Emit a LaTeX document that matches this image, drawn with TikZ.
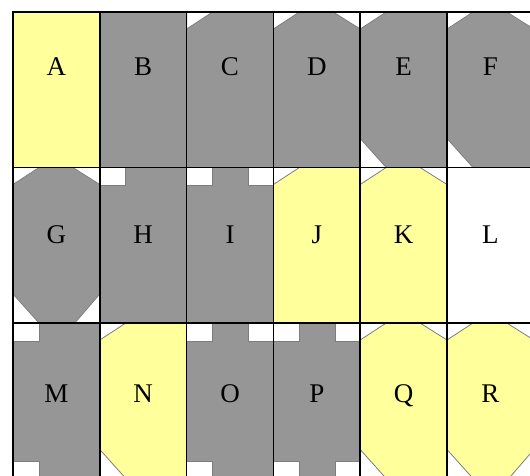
\documentclass[tikz,border=0pt]{standalone}
\usepackage{fontspec}
\setmainfont{Liberation Serif}
\usetikzlibrary{positioning}
\definecolor{tileyellow}{RGB}{255,255,155}
\definecolor{tilegray}{RGB}{150,150,150}
\definecolor{cutedge}{RGB}{125,125,125}
\tikzset{
  tile/.style={rectangle,draw=black,line width=1.6pt,minimum width=86.8pt,minimum height=155.5pt,
    inner sep=0pt,outer sep=0pt,anchor=north west},
  lbl/.style={inner sep=0pt,font=\fontsize{27}{32}\selectfont,anchor=base},
  cut/.style={fill=white,draw=cutedge,line width=0.8pt},
  edge/.style={draw=black,line width=1.6pt},
  frame/.style={draw=black,line width=2.4pt}
}

\begin{document}
\begin{tikzpicture}[x=1pt,y=-1pt]
  \useasboundingbox (0,0) rectangle (530,475);
  \clip (0,0) rectangle (530,475);
  % tiles, row by row
  \foreach \t/\c/\r/\col in {A/0/0/tileyellow,B/1/0/tilegray,C/2/0/tilegray,D/3/0/tilegray,E/4/0/tilegray,F/5/0/tilegray,
    G/0/1/tilegray,H/1/1/tilegray,I/2/1/tilegray,J/3/1/tileyellow,K/4/1/tileyellow,L/5/1/white,
    M/0/2/tilegray,N/1/2/tileyellow,O/2/2/tilegray,P/3/2/tilegray,Q/4/2/tileyellow,R/5/2/tileyellow}
    \node[tile,fill=\col] (\t) at (13+86.8*\c,12+155.5*\r) {};
  % corner cuts
  \foreach \t in {C,D,E,F,G,J,K,N,Q,R}
    \draw[cut] (\t.north west) -- ++(26,0) -- ++(-26,17) -- cycle;
  \foreach \t in {D,F,G,K,Q,R}
    \draw[cut] (\t.north east) -- ++(-27,0) -- ++(27,17) -- cycle;
  \foreach \t in {E,F,G,N,Q,R}
    \draw[cut] (\t.south west) -- ++(0,-29) -- ++(26,29) -- cycle;
  \foreach \t in {G,R}
    \draw[cut] (\t.south east) -- ++(0,-29) -- ++(-25,29) -- cycle;
  % notches
  \foreach \t in {H,I,M,O,P}
    \draw[cut] (\t.north west) rectangle ++(26,18);
  \foreach \t in {I,O,P}
    \draw[cut] (\t.north east) rectangle ++(-25,18);
  \foreach \t in {M,O,P}
    \draw[cut] (\t.south west) rectangle ++(26,-17);
  \foreach \t in {P}
    \draw[cut] (\t.south east) rectangle ++(-25,-17);
  % borders and labels
  \foreach \t in {A,B,C,D,E,F,G,H,I,J,K,L,M,N,O,P,Q,R}
    \draw[edge] (\t.north west) rectangle (\t.south east);
  \draw[frame] (M.south west) -- (A.north west) -- (F.north east);
  \foreach \t/\off in {A/63,B/63,C/63,D/63,E/63,F/63,G/76,H/76,I/76,J/76,K/76,L/76,
    M/79,N/79,O/79,P/79,Q/79,R/79}
    \node[lbl] (l\t) at ([yshift=-\off pt]\t.north) {\t};
\end{tikzpicture}
\end{document}
